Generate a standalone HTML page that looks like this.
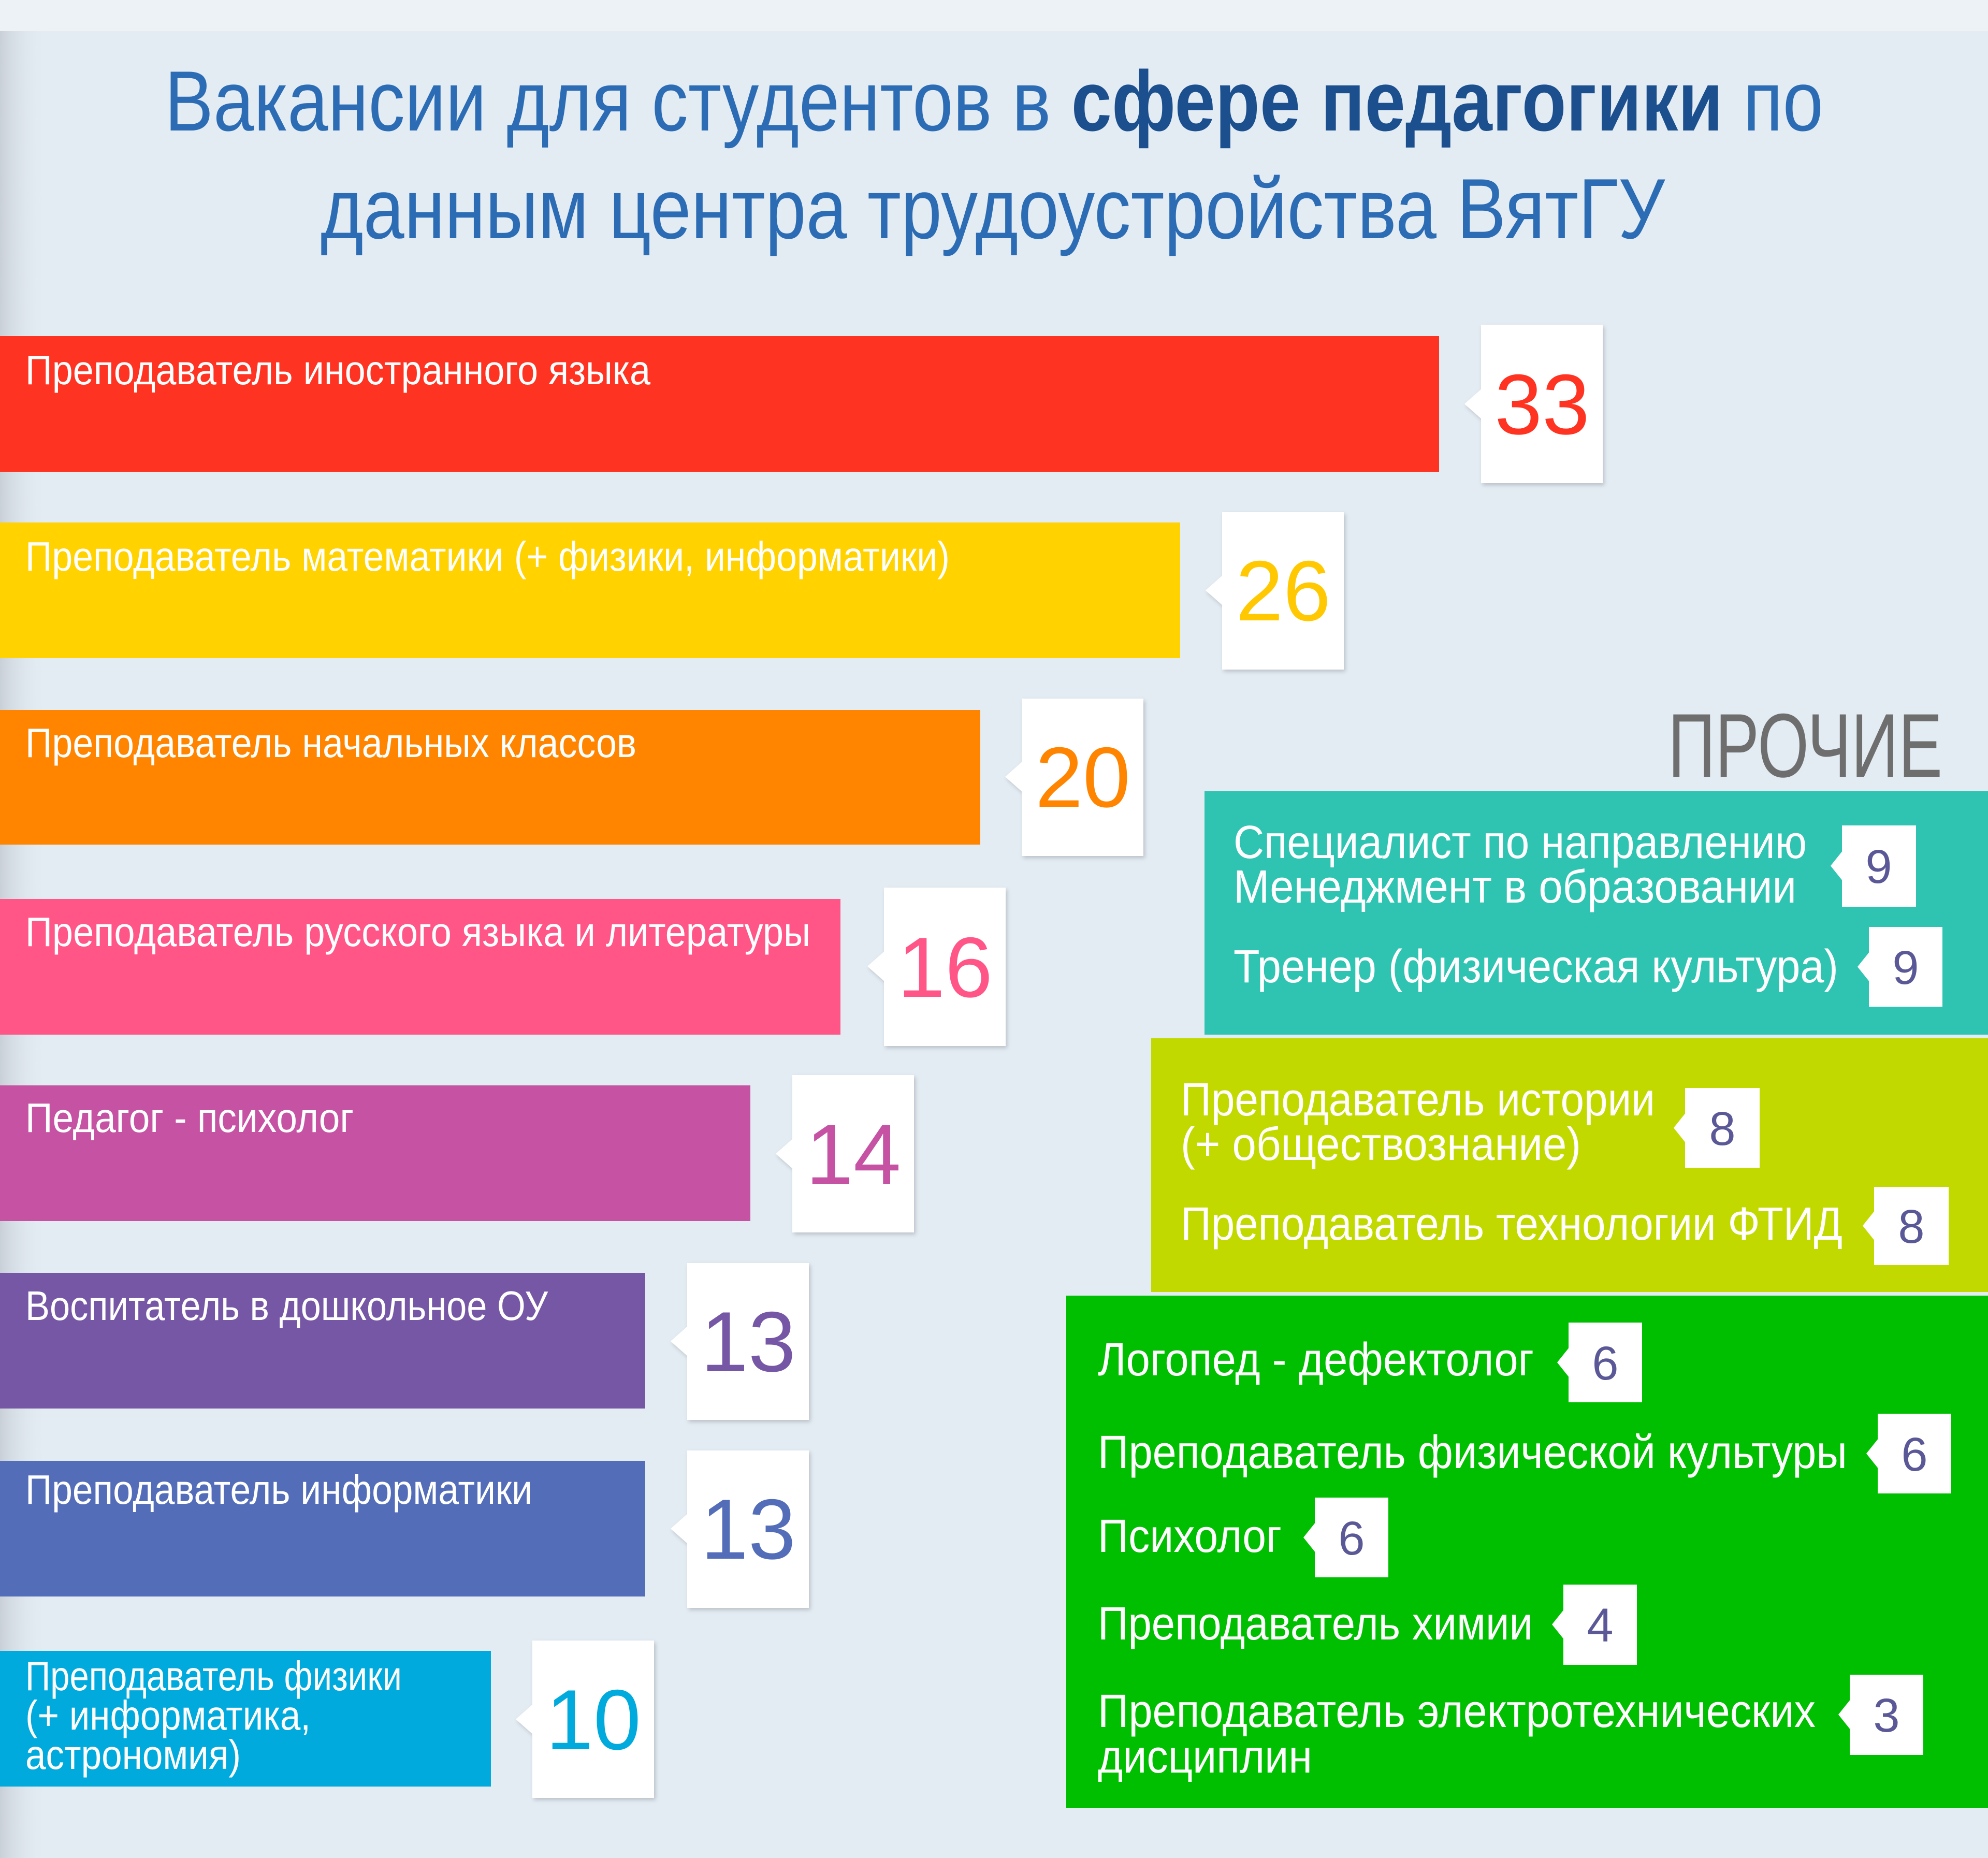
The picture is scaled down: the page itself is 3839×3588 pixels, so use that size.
<!DOCTYPE html>
<html><head><meta charset="utf-8"><style>
html,body{margin:0;padding:0;}
body{width:3839px;height:3588px;overflow:hidden;background:#e3ebf3;}
svg{display:block;}
text{font-family:"Liberation Sans Narrow","Liberation Sans",sans-serif;}
</style></head><body>
<svg width="3839" height="3588" viewBox="0 0 3839 3588" xmlns="http://www.w3.org/2000/svg">
<defs>
<linearGradient id="lg" x1="0" x2="1" y1="0" y2="0">
<stop offset="0" stop-color="#c9d0d8"/><stop offset="1" stop-color="#e3ebf3" stop-opacity="0"/>
</linearGradient>
<filter id="sh" x="-20%" y="-20%" width="140%" height="140%"><feDropShadow dx="3" dy="4" stdDeviation="4" flood-color="#000" flood-opacity="0.18"/></filter>
</defs>
<rect width="3839" height="3588" fill="#e3ebf3"/>
<rect width="90" height="3588" fill="url(#lg)"/>
<rect width="3839" height="60" fill="#edf2f7"/>

<!-- title -->
<text x="318" y="252" font-size="165" fill="#2b6cb4" textLength="3203" lengthAdjust="spacingAndGlyphs">Вакансии для студентов в <tspan font-weight="bold" fill="#1b4f8e">сфере педагогики</tspan> по</text>
<text x="619" y="460" font-size="165" fill="#2b6cb4" textLength="2596" lengthAdjust="spacingAndGlyphs">данным центра трудоустройства ВятГУ</text>

<!-- bars -->
<g font-size="80" fill="#fff">
<rect x="0" y="649" width="2779" height="262" fill="#ff3322"/>
<text x="49" y="742" textLength="1207" lengthAdjust="spacingAndGlyphs">Преподаватель иностранного языка</text>
<rect x="0" y="1009" width="2279" height="262" fill="#ffd200"/>
<text x="49" y="1102" textLength="1785" lengthAdjust="spacingAndGlyphs">Преподаватель математики (+ физики, информатики)</text>
<rect x="0" y="1371" width="1893" height="260" fill="#ff8400"/>
<text x="49" y="1462" textLength="1180" lengthAdjust="spacingAndGlyphs">Преподаватель начальных классов</text>
<rect x="0" y="1736" width="1623" height="262" fill="#ff5587"/>
<text x="49" y="1827" textLength="1516" lengthAdjust="spacingAndGlyphs">Преподаватель русского языка и литературы</text>
<rect x="0" y="2096" width="1449" height="262" fill="#c552a3"/>
<text x="49" y="2186" textLength="634" lengthAdjust="spacingAndGlyphs">Педагог - психолог</text>
<rect x="0" y="2458" width="1246" height="262" fill="#7657a5"/>
<text x="49" y="2549" textLength="1009" lengthAdjust="spacingAndGlyphs">Воспитатель в дошкольное ОУ</text>
<rect x="0" y="2821" width="1246" height="262" fill="#536db8"/>
<text x="49" y="2904" textLength="979" lengthAdjust="spacingAndGlyphs">Преподаватель информатики</text>
<rect x="0" y="3188" width="948" height="262" fill="#00aadd"/>
<text x="49" y="3264" textLength="727" lengthAdjust="spacingAndGlyphs">Преподаватель физики</text>
<text x="49" y="3340" textLength="551" lengthAdjust="spacingAndGlyphs">(+ информатика,</text>
<text x="49" y="3416" textLength="416" lengthAdjust="spacingAndGlyphs">астрономия)</text>
</g>

<!-- number boxes -->
<g font-size="165" text-anchor="middle" font-family="'Liberation Sans',sans-serif">
<g filter="url(#sh)"><rect x="2860" y="627" width="235" height="306" fill="#fff"/><polygon points="2862,750 2828,780 2862,810" fill="#fff"/></g>
<text x="2978" y="838" fill="#ff3322">33</text>
<g filter="url(#sh)"><rect x="2360" y="989" width="235" height="304" fill="#fff"/><polygon points="2362,1110 2328,1140 2362,1170" fill="#fff"/></g>
<text x="2478" y="1198" fill="#ffc800">26</text>
<g filter="url(#sh)"><rect x="1973" y="1349" width="235" height="304" fill="#fff"/><polygon points="1975,1470 1941,1500 1975,1530" fill="#fff"/></g>
<text x="2091" y="1558" fill="#ff8400">20</text>
<g filter="url(#sh)"><rect x="1707" y="1714" width="235" height="306" fill="#fff"/><polygon points="1709,1836 1675,1866 1709,1896" fill="#fff"/></g>
<text x="1825" y="1925" fill="#ff5587">16</text>
<g filter="url(#sh)"><rect x="1530" y="2076" width="235" height="304" fill="#fff"/><polygon points="1532,2198 1498,2228 1532,2258" fill="#fff"/></g>
<text x="1648" y="2286" fill="#c552a3">14</text>
<g filter="url(#sh)"><rect x="1327" y="2439" width="235" height="303" fill="#fff"/><polygon points="1329,2560 1295,2590 1329,2620" fill="#fff"/></g>
<text x="1445" y="2648" fill="#7657a5">13</text>
<g filter="url(#sh)"><rect x="1327" y="2801" width="235" height="304" fill="#fff"/><polygon points="1329,2922 1295,2952 1329,2982" fill="#fff"/></g>
<text x="1445" y="3010" fill="#536db8">13</text>
<g filter="url(#sh)"><rect x="1028" y="3168" width="235" height="304" fill="#fff"/><polygon points="1030,3290 996,3320 1030,3350" fill="#fff"/></g>
<text x="1146" y="3378" fill="#00aadd">10</text>
</g>

<!-- others -->
<text x="3751" y="1500" font-size="175" fill="#6e6e6e" text-anchor="end" textLength="530" lengthAdjust="spacingAndGlyphs">ПРОЧИЕ</text>
<rect x="2326" y="1528" width="1513" height="470" fill="#2fc4b2"/>
<rect x="2223" y="2005" width="1616" height="490" fill="#c2d900"/>
<rect x="2059" y="2502" width="1780" height="989" fill="#00bf00"/>

<g font-size="90" fill="#fff">
<text x="2382" y="1657" textLength="1107" lengthAdjust="spacingAndGlyphs">Специалист по направлению</text>
<text x="2382" y="1743" textLength="1087" lengthAdjust="spacingAndGlyphs">Менеджмент в образовании</text>
<text x="2382" y="1897" textLength="1168" lengthAdjust="spacingAndGlyphs">Тренер (физическая культура)</text>
<text x="2280" y="2154" textLength="916" lengthAdjust="spacingAndGlyphs">Преподаватель истории</text>
<text x="2280" y="2240" textLength="773" lengthAdjust="spacingAndGlyphs">(+ обществознание)</text>
<text x="2280" y="2394" textLength="1278" lengthAdjust="spacingAndGlyphs">Преподаватель технологии ФТИД</text>
<text x="2120" y="2656" textLength="842" lengthAdjust="spacingAndGlyphs">Логопед - дефектолог</text>
<text x="2120" y="2835" textLength="1447" lengthAdjust="spacingAndGlyphs">Преподаватель физической культуры</text>
<text x="2120" y="2997" textLength="355" lengthAdjust="spacingAndGlyphs">Психолог</text>
<text x="2120" y="3166" textLength="840" lengthAdjust="spacingAndGlyphs">Преподаватель химии</text>
<text x="2120" y="3335" textLength="1386" lengthAdjust="spacingAndGlyphs">Преподаватель электротехнических</text>
<text x="2120" y="3423" textLength="414" lengthAdjust="spacingAndGlyphs">дисциплин</text>
</g>

<g font-size="92" fill="#5a5896" text-anchor="middle" font-family="'Liberation Sans',sans-serif">
<rect x="3557" y="1594" width="143" height="157" fill="#fff"/><polygon points="3559,1642 3535,1672 3559,1702" fill="#fff"/>
<text x="3628" y="1705">9</text>
<rect x="3609" y="1790" width="142" height="154" fill="#fff"/><polygon points="3611,1837 3587,1867 3611,1897" fill="#fff"/>
<text x="3680" y="1900">9</text>
<rect x="3254" y="2101" width="144" height="154" fill="#fff"/><polygon points="3256,2148 3232,2178 3256,2208" fill="#fff"/>
<text x="3326" y="2211">8</text>
<rect x="3619" y="2292" width="144" height="151" fill="#fff"/><polygon points="3621,2337 3597,2367 3621,2397" fill="#fff"/>
<text x="3691" y="2400">8</text>
<rect x="3029" y="2554" width="142" height="154" fill="#fff"/><polygon points="3031,2601 3007,2631 3031,2661" fill="#fff"/>
<text x="3100" y="2664">6</text>
<rect x="3626" y="2730" width="142" height="154" fill="#fff"/><polygon points="3628,2777 3604,2807 3628,2837" fill="#fff"/>
<text x="3697" y="2840">6</text>
<rect x="2539" y="2892" width="142" height="154" fill="#fff"/><polygon points="2541,2939 2517,2969 2541,2999" fill="#fff"/>
<text x="2610" y="3002">6</text>
<rect x="3019" y="3060" width="142" height="155" fill="#fff"/><polygon points="3021,3107 2997,3137 3021,3167" fill="#fff"/>
<text x="3090" y="3170">4</text>
<rect x="3572" y="3234" width="142" height="155" fill="#fff"/><polygon points="3574,3281 3550,3311 3574,3341" fill="#fff"/>
<text x="3643" y="3344">3</text>
</g>
</svg>
</body></html>
